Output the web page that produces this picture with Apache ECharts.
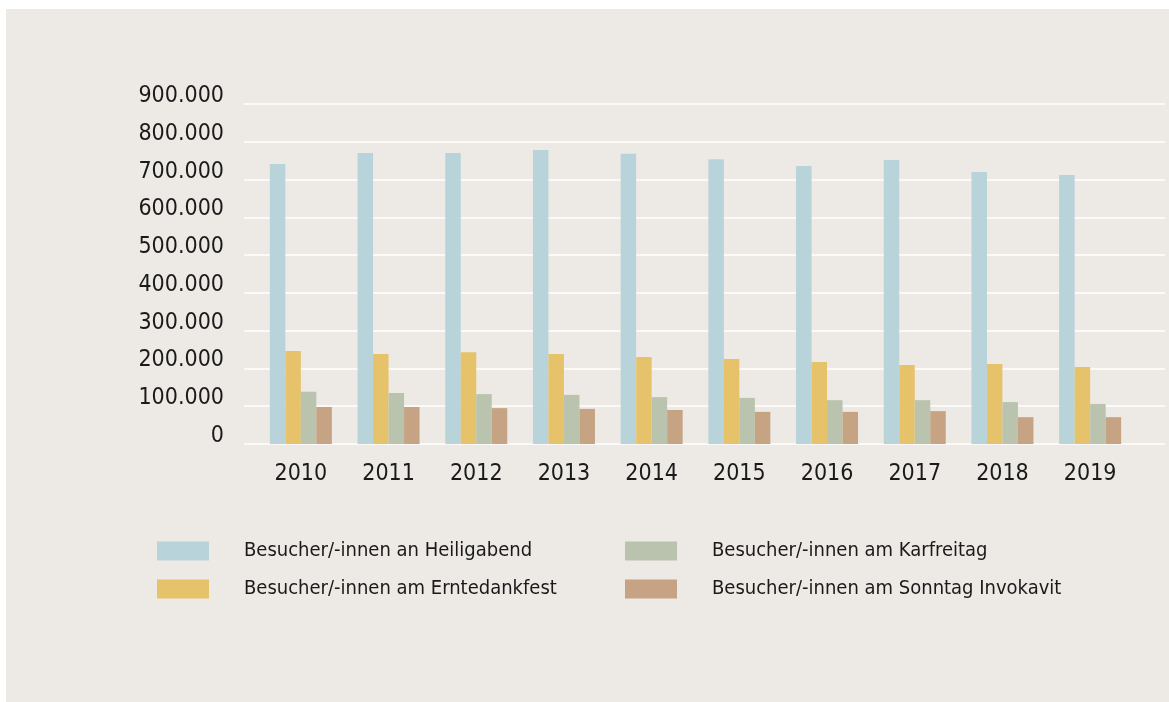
<!DOCTYPE html>
<html>
<head>
<meta charset="utf-8">
<script src="https://cdn.jsdelivr.net/npm/echarts@6/dist/echarts.min.js"></script>
<style>
    html, body { margin: 0; padding: 0; background: #ffffff; }
    #chart {
        position: absolute;
        left: 6px;
        top: 9px;
        width: 1163px;
        height: 693px;
        background: #ede9e5;
    }
</style>
</head>
<body>
<div id="chart"></div>
<script>
    // Jahre
    var years = ['2010', '2011', '2012', '2013', '2014', '2015', '2016', '2017', '2018', '2019'];

    // Besucherzahlen je Anlass
    var heiligabend = [741000, 770000, 770000, 778000, 768000, 754000, 736000, 752000, 720000, 712000];
    var erntedankfest = [246000, 238000, 243000, 238000, 230000, 225000, 217000, 209000, 212000, 204000];
    var karfreitag = [138000, 135000, 132000, 130000, 124000, 122000, 116000, 116000, 111000, 106000];
    var invokavit = [98000, 98000, 95000, 93000, 90000, 85000, 85000, 87000, 71000, 71000];

    var seriesNames = [
        'Besucher/-innen an Heiligabend',
        'Besucher/-innen am Erntedankfest',
        'Besucher/-innen am Karfreitag',
        'Besucher/-innen am Sonntag Invokavit'
    ];
    var colors = ['#b8d3da', '#e6c36b', '#b9c3ad', '#c5a383'];

    var font = '"Liberation Sans Narrow", "DejaVu Sans Condensed", sans-serif';

    function formatNumber(v) {
        return String(v).replace(/\B(?=(\d{3})+(?!\d))/g, '.');
    }

    function makeBar(name, data, color) {
        return {
            name: name,
            type: 'bar',
            xAxisIndex: 1,
            yAxisIndex: 1,
            barWidth: 15.5,
            barGap: '0%',
            itemStyle: { color: color },
            data: data
        };
    }

    var legendText = {
        fontFamily: font,
        fontSize: 20,
        lineHeight: 19,
        color: '#1a1a1a',
        padding: [0, 0, 0, 30]
    };

    function makeLegend(left, names) {
        return {
            orient: 'vertical',
            left: left,
            top: 532,
            padding: 0,
            itemWidth: 52,
            itemHeight: 19,
            itemGap: 18,
            icon: 'rect',
            textStyle: legendText,
            data: names
        };
    }

    var option = {
        animation: false,
        color: colors,
        textStyle: { fontFamily: font },
        legend: [
            makeLegend(151, [seriesNames[0], seriesNames[1]]),
            makeLegend(619, [seriesNames[2], seriesNames[3]])
        ],
        grid: [
            // Hintergrund-Gitter
            { left: 238, right: 4, top: 95, bottom: 258 },
            // Balken
            { left: 251, right: 35, top: 95, bottom: 258 }
        ],
        xAxis: [
            {
                type: 'category',
                gridIndex: 0,
                data: years,
                show: false
            },
            {
                type: 'category',
                gridIndex: 1,
                data: years,
                axisLine: { show: false },
                axisTick: { show: false },
                axisLabel: {
                    margin: 19,
                    fontFamily: font,
                    fontSize: 23,
                    color: '#1a1a1a'
                }
            }
        ],
        yAxis: [
            {
                type: 'value',
                gridIndex: 0,
                min: 0,
                max: 900000,
                interval: 100000,
                axisLine: { show: false },
                axisTick: { show: false },
                splitLine: { lineStyle: { color: '#ffffff', width: 1.5 } },
                axisLabel: {
                    margin: 20,
                    fontFamily: font,
                    fontSize: 23,
                    lineHeight: 16,
                    color: '#1a1a1a',
                    verticalAlign: 'bottom',
                    formatter: formatNumber
                }
            },
            {
                type: 'value',
                gridIndex: 1,
                min: 0,
                max: 900000,
                interval: 100000,
                show: false,
                splitLine: { show: false }
            }
        ],
        series: [
            makeBar(seriesNames[0], heiligabend, colors[0]),
            makeBar(seriesNames[1], erntedankfest, colors[1]),
            makeBar(seriesNames[2], karfreitag, colors[2]),
            makeBar(seriesNames[3], invokavit, colors[3])
        ]
    };

    var myChart = echarts.init(document.getElementById('chart'));
    myChart.setOption(option);
</script>
</body>
</html>
